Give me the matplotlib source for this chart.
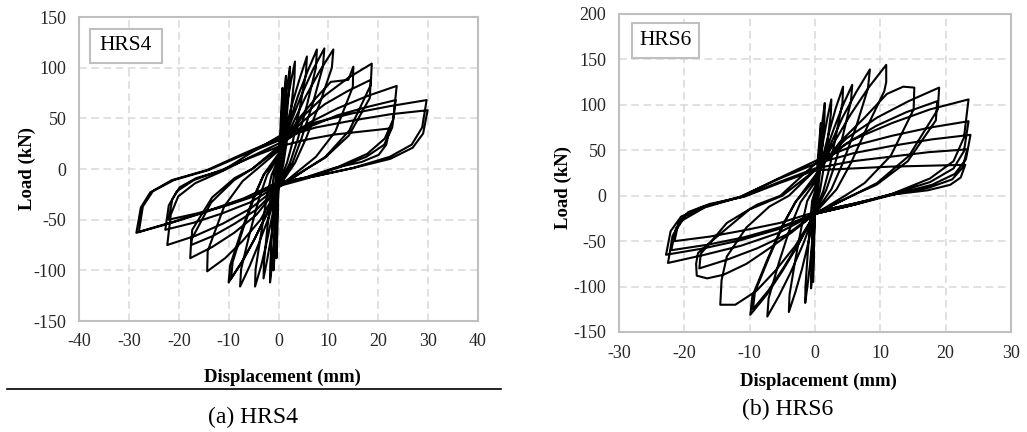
import matplotlib.pyplot as plt
from matplotlib.patches import Rectangle
from matplotlib.lines import Line2D

plt.rcParams['font.family'] = ['Liberation Serif', 'DejaVu Serif']
plt.rcParams['axes.unicode_minus'] = False

# Recorded load-displacement history (mm, kN), one line per half cycle
hrs4_disp = [
    0, .2, .4, .6, .8, .78, .6, .4, .24,
    0, -.1, -.2, -.3, -.4, -.39, -.3, -.2, -.12,
    0, .38, .75, 1.13, 1.5, 1.46, 1.13, .75, .45,
    0, -.25, -.5, -.75, -1, -.97, -.75, -.5, -.3,
    0, .58, 1.15, 1.73, 2.3, 2.23, 1.73, 1.15, .69,
    0, -.43, -.85, -1.28, -1.7, -1.65, -1.28, -.85, -.51,
    0, .83, 1.65, 2.48, 3.3, 3.2, 2.48, 1.65, .99,
    0, -.75, -1.5, -2.25, -3, -2.91, -2.25, -1.5, -.9,
    0, 1.4, 2.9, 4.3, 5.7, 5.5, 4.3, 2.9, 1.7,
    0, -1.2, -2.4, -3.5, -4.7, -4.6, -3.5, -2.4, -1.4,
    0, 1.9, 3.9, 5.8, 7.7, 7.5, 5.8, 3.9, 2.3,
    0, -1.9, -3.9, -5.8, -7.7, -7.5, -5.8, -3.9, -2.3,
    0, 2.3, 4.6, 6.9, 9.2, 8.9, 6.9, 4.6, 2.8,
    0, -2.5, -5, -7.5, -10, -9.7, -7.5, -5, -3,
    0, 2.8, 5.5, 8.3, 11, 10.7, 8.3, 5.5, 3.3,
    0, -2.4, -4.8, -7.1, -9.5, -9.2, -7.1, -4.8, -2.9,
    0, 3.8, 7.5, 10.5, 14, 15, 14.9, 11.4, 7.5, 4.5,
    0, -3.6, -7.2, -10.7, -14.3, -14.2, -10.9, -7.2, -4.3,
    0, 4.7, 9.4, 14, 18.7, 18.5, 14.2, 9.4, 5.6,
    0, -4.4, -8.9, -13.3, -17.7, -17.5, -13.5, -8.9, -5.3,
    0, 4.6, 9.3, 13.9, 18.5, 18.3, 14.1, 9.3, 5.6,
    0, -4.4, -8.8, -13.1, -17.5, -17.3, -13.3, -8.8, -5.3,
    0, 5.9, 11.9, 17.8, 23.7, 23, 21.3, 17.8, 11.9, 5.9,
    0, -5.6, -11.2, -16.7, -22.3, -21.6, -20.1, -16.7, -11.2, -5.6,
    0, 5.9, 11.8, 17.6, 23.5, 22.8, 21.2, 17.6, 11.8, 5.9,
    0, -5.7, -11.4, -17, -22.7, -22, -20.4, -17, -11.4, -5.7,
    0, 5.6, 11.2, 16.7, 22.3, 21.6, 20.1, 16.7, 11.2, 5.6,
    0, -5.5, -11, -16.5, -22, -21.3, -19.8, -16.5, -11, -5.5,
    0, 7.4, 14.9, 22.3, 29.7, 28.8, 26.7, 22.3, 14.9, 7.4,
    0, -7.1, -14.3, -21.4, -28.5, -27.6, -25.7, -21.4, -14.3, -7.1,
    0, 7.5, 15, 22.4, 29.9, 29, 26.9, 22.4, 15, 7.5,
    0, -7, -14, -21, -28, -27.2, -25.2, -21, -14, -7, 0,
]
hrs4_load = [
    -5, 21, 43, 63, 80, 68, 44, 20, 4,
    -15, -37, -57, -73, -88, -75, -48, -22, -4,
    0, 28, 52, 74, 92, 78, 51, 23, 5,
    -15, -41, -63, -83, -100, -85, -55, -25, -5,
    3, 32, 59, 81, 101, 86, 56, 25, 5,
    -15, -44, -70, -93, -112, -95, -62, -28, -6,
    5, 35, 63, 86, 106, 90, 58, 27, 5,
    -15, -43, -68, -89, -108, -92, -59, -27, -5,
    8, 39, 67, 90, 111, 94, 61, 28, 6,
    -15, -45, -73, -96, -116, -99, -64, -29, -6,
    10, 42, 72, 96, 118, 100, 65, 30, 6,
    -17, -47, -73, -96, -116, -99, -64, -29, -6,
    12, 44, 73, 98, 119, 101, 65, 30, 6,
    -17, -46, -71, -93, -112, -95, -62, -28, -6,
    12, 44, 72, 97, 118, 100, 65, 30, 6,
    -18, -45, -69, -90, -108, -92, -59, -27, -5,
    15, 48, 70, 86, 88, 101, 81, 37, 12, 0,
    -18, -50, -71, -88, -101, -81, -37, -12, 0,
    18, 51, 73, 90, 104, 83, 38, 12, 0,
    -18, -45, -63, -77, -88, -70, -33, -11, 0,
    20, 46, 64, 77, 88, 70, 33, 11, 0,
    -18, -40, -54, -66, -75, -60, -28, -9, 0,
    22, 45, 60, 72, 82, 49, 30, 15, 2, -9,
    -17, -39, -54, -66, -75, -45, -27, -14, -2, 12,
    25, 41, 53, 61, 68, 41, 24, 12, 1, -8,
    -16, -33, -44, -53, -60, -36, -22, -11, -1, 11,
    22, 29, 34, 37, 40, 24, 14, 7, 1, -8,
    -15, -28, -37, -44, -50, -30, -18, -9, -1, 16,
    32, 46, 55, 62, 68, 41, 24, 12, 1, -7,
    -14, -30, -42, -53, -63, -38, -23, -11, -1, 15,
    30, 41, 48, 54, 58, 35, 21, 10, 1, -7,
    -13, -29, -41, -52, -62, -37, -22, -11, -1, 14, 28,
]

hrs6_disp = [
    0, .23, .45, .68, .9, .87, .68, .45, .27,
    0, -.08, -.15, -.23, -.3, -.29, -.23, -.15, -.09,
    0, .38, .75, 1.13, 1.5, 1.46, 1.13, .75, .45,
    0, -.15, -.3, -.45, -.6, -.58, -.45, -.3, -.18,
    0, .63, 1.25, 1.88, 2.5, 2.43, 1.88, 1.25, .75,
    0, -.38, -.75, -1.13, -1.5, -1.46, -1.13, -.75, -.45,
    0, 1.1, 2.2, 3.2, 4.3, 4.2, 3.2, 2.2, 1.3,
    0, -1, -2, -3, -4, -3.9, -3, -2, -1.2,
    0, 1.4, 2.9, 4.3, 5.7, 5.5, 4.3, 2.9, 1.7,
    0, -1.8, -3.7, -5.5, -7.3, -7.1, -5.5, -3.7, -2.2,
    0, 2.1, 4.2, 6.3, 8.4, 8.1, 6.3, 4.2, 2.5,
    0, -2.5, -5, -7.4, -9.9, -9.6, -7.4, -5, -3,
    0, 2.7, 5.5, 8.2, 10.9, 10.9, 10.6, 8.2, 5.5, 3.3,
    0, -2.4, -4.8, -7.1, -9.5, -9.2, -7.1, -4.8, -2.9,
    0, 3.8, 7.6, 11, 13.5, 15.2, 15.1, 11.6, 7.6, 4.6,
    0, -3, -6, -9, -12.2, -14.5, -14.3, -13.5, -10.5, -7, -4,
    0, 4.8, 9.5, 14.3, 19, 18.8, 14.4, 9.5, 5.7,
    0, -3.5, -7, -10.5, -14, -16.5, -18.1, -18.2, -17.9, -15, -10, -5,
    0, 4.7, 9.4, 14, 18.7, 18.5, 14.2, 9.4, 5.6,
    0, -4.4, -8.9, -13.3, -17.7, -17.5, -13.5, -8.9, -5.3,
    0, 5.9, 11.8, 17.6, 23.5, 22.8, 21.2, 17.6, 11.8, 5.9,
    0, -5.6, -11.3, -16.9, -22.5, -21.8, -20.3, -16.9, -11.3, -5.6,
    0, 5.9, 11.8, 17.6, 23.5, 22.8, 21.2, 17.6, 11.8, 5.9,
    0, -5.7, -11.4, -17.1, -22.8, -22.1, -20.5, -17.1, -11.4, -5.7,
    0, 6, 11.9, 17.9, 23.8, 23.1, 21.4, 17.9, 11.9, 6,
    0, -5.5, -11, -16.5, -22, -21.3, -19.8, -16.5, -11, -5.5,
    0, 5.8, 11.7, 17.5, 23.3, 22.6, 21, 17.5, 11.7, 5.8,
    0, -5.4, -10.8, -16.1, -21.5, -20.9, -19.4, -16.1, -10.8, -5.4,
    0, 5.8, 11.5, 17.3, 23, 22.3, 20.7, 17.3, 11.5, 5.8, 0,
]
hrs6_load = [
    -8, 18, 42, 62, 80, 68, 44, 20, 4,
    -15, -39, -61, -79, -95, -81, -52, -24, -5,
    -5, 27, 56, 81, 102, 87, 56, 26, 5,
    -17, -43, -65, -85, -102, -87, -56, -26, -5,
    0, 32, 60, 85, 106, 90, 58, 27, 5,
    -17, -47, -75, -98, -118, -100, -65, -30, -6,
    5, 40, 71, 97, 120, 102, 66, 30, 6,
    -18, -51, -81, -106, -128, -109, -70, -32, -6,
    10, 44, 74, 100, 122, 104, 67, 31, 6,
    -18, -53, -84, -110, -133, -113, -73, -33, -7,
    15, 52, 86, 114, 139, 118, 76, 35, 7,
    -19, -53, -83, -109, -131, -111, -72, -33, -7,
    18, 56, 90, 119, 144, 125, 115, 79, 36, 7,
    -19, -51, -79, -104, -125, -106, -69, -31, -6,
    22, 59, 86, 112, 120, 119, 95, 44, 14, 0,
    -20, -55, -82, -105, -120, -120, -93, -67, -35, -12, 0,
    28, 63, 86, 104, 119, 95, 44, 14, 0,
    -20, -40, -58, -75, -87, -91, -88, -75, -63, -45, -15, 0,
    28, 57, 77, 92, 104, 83, 38, 12, 0,
    -20, -43, -58, -70, -80, -64, -30, -10, 0,
    35, 62, 80, 95, 106, 64, 38, 19, 2, -10,
    -20, -41, -55, -65, -74, -44, -27, -13, -1, 19,
    38, 55, 66, 75, 82, 49, 30, 15, 2, -10,
    -20, -37, -49, -58, -65, -39, -23, -12, -1, 18,
    35, 47, 55, 62, 67, 40, 24, 12, 1, -10,
    -20, -35, -46, -54, -60, -36, -22, -11, -1, 15,
    30, 38, 43, 48, 51, 31, 18, 9, 1, -9,
    -18, -30, -38, -45, -50, -30, -18, -9, -1, 14,
    28, 30, 32, 33, 34, 20, 12, 6, 1, -9, -18,
]

hrs4_xticks = [-40, -30, -20, -10, 0, 10, 20, 30, 40]
hrs4_yticks = [-150, -100, -50, 0, 50, 100, 150]
hrs6_xticks = [-30, -20, -10, 0, 10, 20, 30]
hrs6_yticks = [-150, -100, -50, 0, 50, 100, 150, 200]

W, H = 1027, 432
fig = plt.figure(figsize=(W / 100, H / 100), dpi=100)


def fx(x):
    return x / W


def fy(y):
    return 1 - y / H


def make_axes(left, top, right, bottom, xticks, yticks):
    ax = fig.add_axes([fx(left), fy(bottom), (right - left) / W, (bottom - top) / H])
    ax.set_xlim(xticks[0], xticks[-1])
    ax.set_ylim(yticks[0], yticks[-1])
    ax.set_xticks(xticks)
    ax.set_yticks(yticks)
    ax.grid(True, color='#d9d9d9', linestyle=(0, (5, 3)), linewidth=1.1)
    ax.set_axisbelow(True)
    for s in ax.spines.values():
        s.set_color('#bfbfbf')
        s.set_linewidth(1.5)
    ax.tick_params(length=0, labelsize=13, labelcolor='#262626', pad=9)
    return ax


def tag_box(left, top, right, bottom, label):
    fig.patches.append(Rectangle((fx(left), fy(bottom)), (right - left) / W, (bottom - top) / H,
                                 transform=fig.transFigure, facecolor='white',
                                 edgecolor='#bfbfbf', linewidth=1.5, zorder=2))
    fig.text(fx((left + right) / 2), fy((top + bottom) / 2), label, ha='center', va='center',
             fontsize=15.5, zorder=3)


# (a) HRS4
ax1 = make_axes(79, 17, 478, 321, hrs4_xticks, hrs4_yticks)
ax1.plot(hrs4_disp, hrs4_load, color='black', lw=1.5, solid_joinstyle='round')
tag_box(90, 29, 162, 63, 'HRS4')
fig.text(fx(27.5), fy(168), 'Load (kN)', rotation=90, ha='center', va='center',
         fontsize=13.5, weight='bold')
fig.text(fx(282), fy(377), 'Displacement (mm)', ha='center', va='center',
         fontsize=13.5, weight='bold')
fig.add_artist(Line2D([fx(7), fx(501)], [fy(389), fy(389)], color='black', lw=1.2))
fig.text(fx(253), fy(417), '(a) HRS4', ha='center', va='center', fontsize=17)

# (b) HRS6
ax2 = make_axes(619, 14, 1011, 332, hrs6_xticks, hrs6_yticks)
ax2.plot(hrs6_disp, hrs6_load, color='black', lw=1.5, solid_joinstyle='round')
tag_box(632, 23, 699, 58, 'HRS6')
fig.text(fx(563), fy(188), 'Load (kN)', rotation=90, ha='center', va='center',
         fontsize=13.5, weight='bold')
fig.text(fx(818), fy(381), 'Displacement (mm)', ha='center', va='center',
         fontsize=13.5, weight='bold')
fig.text(fx(788), fy(409), '(b) HRS6', ha='center', va='center', fontsize=17)

fig.savefig('out.png', dpi=100)
